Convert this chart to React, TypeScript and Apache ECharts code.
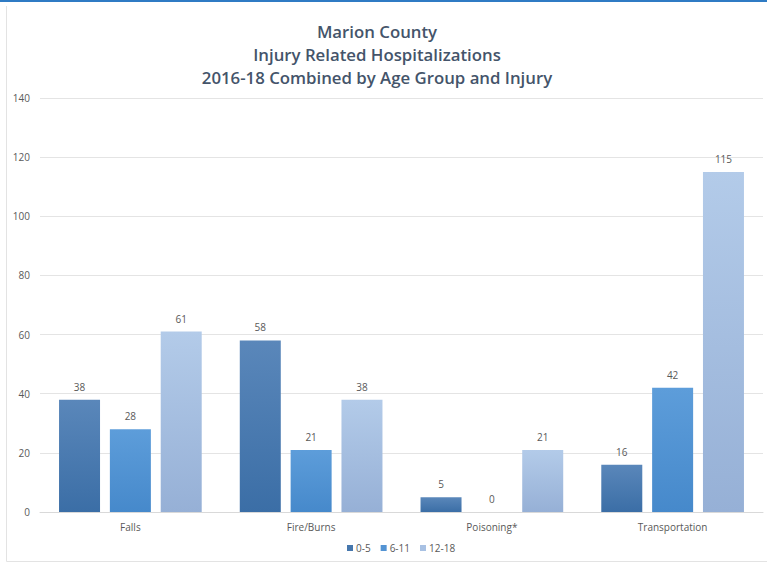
import React, { useEffect, useRef } from "react";
import * as echarts from "echarts";

// Injury categories on the x axis
const categories = ["Falls", "Fire/Burns", "Poisoning*", "Transportation"];

// Hospitalization counts per age group (2016-18 combined)
const age0to5 = [38, 58, 5, 16];
const age6to11 = [28, 21, 0, 42];
const age12to18 = [61, 38, 21, 115];

const seriesNames = ["0-5", "6-11", "12-18"];

const yTicks = { min: 0, max: 140, interval: 20 };

const titleLines = [
  "Marion County",
  "Injury Related Hospitalizations",
  "2016-18 Combined by Age Group and Injury",
];

const FONT = "'Open Sans', 'Noto Sans', sans-serif";

function grad(top: string, bottom: string) {
  return new echarts.graphic.LinearGradient(0, 0, 0, 1, [
    { offset: 0, color: top },
    { offset: 1, color: bottom },
  ]);
}

export default function App() {
  const ref = useRef<HTMLDivElement>(null);

  useEffect(() => {
    if (!ref.current) return;
    const chart = echarts.init(ref.current, undefined, { renderer: "svg" });

    const fills = [
      grad("#5a87ba", "#3b6ea6"),
      grad("#5d9dda", "#4689cb"),
      grad("#b3cbe9", "#96b0d6"),
    ];
    const legendColors = ["#4677ad", "#5393d3", "#a8c1e3"];
    const data = [age0to5, age6to11, age12to18];

    chart.setOption({
      animation: false,
      backgroundColor: "#ffffff",
      textStyle: { fontFamily: FONT },
      graphic: [
        {
          type: "rect",
          shape: { x: 0, y: 0, width: 767, height: 2 },
          style: { fill: "#2f7bc4" },
          silent: true,
        },
        {
          // chart-area frame: left and bottom edges
          type: "polyline",
          shape: { points: [[6.5, 6], [6.5, 561.5], [767, 561.5]] },
          style: { fill: "none", stroke: "#e3e3e3", lineWidth: 1 },
          silent: true,
          z: -1,
        },
        ...titleLines.map((t, i) => ({
          type: "text",
          x: 377,
          y: 31 + i * 23,
          style: {
            text: t,
            fill: "#44546a",
            font: `600 16.8px ${FONT}`,
            textAlign: "center",
            textVerticalAlign: "middle",
          },
          silent: true,
        })),
      ],
      legend: {
        bottom: 8,
        left: 342,
        orient: "horizontal",
        itemWidth: 6,
        itemHeight: 6,
        itemGap: 10,
        icon: "rect",
        textStyle: { color: "#595959", fontSize: 10, fontFamily: FONT, padding: [0, 0, 0, -2] },
        data: seriesNames.map((n, i) => ({ name: n, itemStyle: { color: legendColors[i] } })),
      },
      grid: { left: 40, right: 4, top: 98, bottom: 54, containLabel: false },
      xAxis: {
        type: "category",
        data: categories,
        axisLine: { show: true, lineStyle: { color: "#d9d9d9" } },
        axisTick: { show: false },
        axisLabel: { color: "#595959", fontSize: 10, margin: 10, fontFamily: FONT },
      },
      yAxis: {
        type: "value",
        min: yTicks.min,
        max: yTicks.max,
        interval: yTicks.interval,
        axisLine: { show: false },
        axisTick: { show: false },
        splitLine: { lineStyle: { color: "#e4e4e4" } },
        axisLabel: { color: "#595959", fontSize: 10, margin: 10, fontFamily: FONT },
      },
      series: seriesNames.map((name, i) => ({
        name,
        type: "bar",
        data: data[i],
        barWidth: 41,
        barGap: "24%",
        itemStyle: { color: fills[i] },
        label: {
          show: true,
          position: "top",
          distance: 8,
          color: "#595959",
          fontSize: 10,
          fontFamily: FONT,
        },
      })),
    });

    return () => chart.dispose();
  }, []);

  return (
    <div
      ref={ref}
      style={{ position: "fixed", left: 0, top: 0, width: 767, height: 566 }}
    />
  );
}
